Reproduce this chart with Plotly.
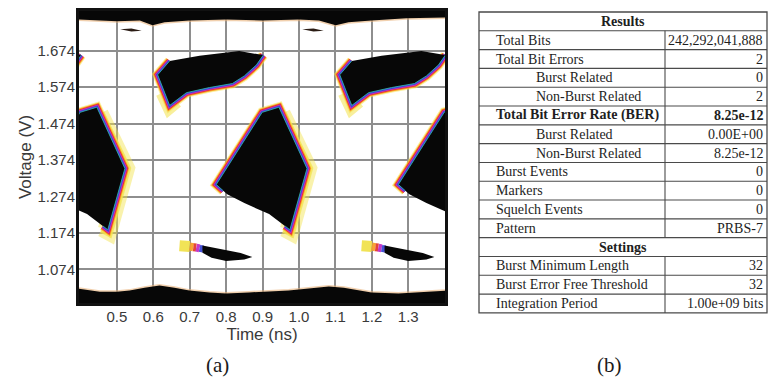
import plotly.graph_objects as go

# ---------------------------------------------------------------------------
# Eye diagram: one unit interval (0.5 ns) of the pattern, repeated across the
# time window.  Each region is a polygon in (time [ns], voltage [V]).
# ---------------------------------------------------------------------------
UI_NS = 0.5
UI_COPIES = [-1, 0, 1]

# central crossing region
cross_t = [0.773, 0.899, 0.945, 1.022, 0.975, 0.918, 0.850, 0.803]
cross_v = [1.307, 1.505, 1.519, 1.351, 1.183, 1.226, 1.256, 1.280]
# sharp (coloured) transition edge of the crossing
cross_edge_t = [0.792, 0.773, 0.899, 0.945, 1.022, 0.975, 0.962]
cross_edge_v = [1.290, 1.307, 1.505, 1.519, 1.351, 1.183, 1.193]
# spread-out trailing edge of the crossing
cross_glow_t = [0.950, 1.022, 0.975, 0.962]
cross_glow_v = [1.500, 1.351, 1.183, 1.190]

# upper rail region
upper_t = [0.902, 0.836, 0.727, 0.645, 0.612, 0.645, 0.691, 0.754, 0.817, 0.850, 0.883]
upper_v = [1.662, 1.673, 1.660, 1.646, 1.608, 1.524, 1.559, 1.573, 1.584, 1.605, 1.635]
upper_edge_t = [0.645, 0.612, 0.645, 0.691, 0.754, 0.817, 0.850, 0.883, 0.902]
upper_edge_v = [1.646, 1.608, 1.524, 1.559, 1.573, 1.584, 1.605, 1.635, 1.662]
upper_glow_t = [0.628, 0.645, 0.662]
upper_glow_v = [1.560, 1.524, 1.538]

# lower rail streak
lower_t = [0.735, 0.780, 0.840, 0.872, 0.850, 0.800, 0.760, 0.735]
lower_v = [1.140, 1.131, 1.119, 1.108, 1.101, 1.097, 1.106, 1.120]
lower_tail_t = [0.672, 0.700, 0.710, 0.718, 0.727, 0.737]
lower_tail_v = [1.139, 1.137, 1.135, 1.134, 1.132, 1.130]

# small dash near the top rail
dash_t = [0.509, 0.540, 0.568, 0.540]
dash_v = [1.733, 1.735, 1.729, 1.727]

# upper and lower rails (edge facing the eye opening)
top_edge_t = [0.390, 0.453, 0.500, 0.563, 0.598, 0.631, 0.699, 0.800, 0.899,
              1.000, 1.055, 1.101, 1.136, 1.199, 1.295, 1.410]
top_edge_v = [1.760, 1.757, 1.755, 1.757, 1.744, 1.752, 1.757, 1.760, 1.757,
              1.760, 1.757, 1.744, 1.752, 1.757, 1.763, 1.765]
bottom_edge_t = [0.390, 0.453, 0.500, 0.535, 0.576, 0.617, 0.658, 0.699, 0.754,
                 0.800, 0.863, 0.918, 0.972, 1.027, 1.082, 1.123, 1.164, 1.199,
                 1.273, 1.328, 1.410]
bottom_edge_v = [1.022, 1.013, 1.013, 1.016, 1.024, 1.030, 1.024, 1.016, 1.011,
                 1.008, 1.011, 1.013, 1.016, 1.022, 1.027, 1.024, 1.016, 1.011,
                 1.008, 1.011, 1.016]
rail_top_v = 1.800
rail_bottom_v = 0.960

# axes
time_ticks = [0.5, 0.6, 0.7, 0.8, 0.9, 1.0, 1.1, 1.2, 1.3]
time_labels = ["0.5", "0.6", "0.7", "0.8", "0.9", "1.0", "1.1", "1.2", "1.3"]
volt_ticks = [1.074, 1.174, 1.274, 1.374, 1.474, 1.574, 1.674]
volt_labels = ["1.074", "1.174", "1.274", "1.374", "1.474", "1.574", "1.674"]
time_range = [0.396, 1.401]
volt_range = [0.982, 1.783]

# ---------------------------------------------------------------------------
# Results table
# ---------------------------------------------------------------------------
results_labels = ["Total Bits", "Total Bit Errors", "Burst Related", "Non-Burst Related",
                  "Total Bit Error Rate (BER)", "Burst Related", "Non-Burst Related",
                  "Burst Events", "Markers", "Squelch Events", "Pattern"]
results_values = ["242,292,041,888", "2", "0", "2", "8.25e-12", "0.00E+00", "8.25e-12",
                  "0", "0", "0", "PRBS-7"]
results_indent = [False, False, True, True, False, True, True, False, False, False, False]
results_bold = [False, False, False, False, True, False, False, False, False, False, False]
settings_labels = ["Burst Minimum Length", "Burst Error Free Threshold", "Integration Period"]
settings_values = ["32", "32", "1.00e+09 bits"]

# ---------------------------------------------------------------------------
W, H = 768, 388
PL, PR, PT, PB = 79, 445, 8, 303          # plot area in pixels


def paper_x(px):
    return (px - PL) / (PR - PL)


def paper_y(py):
    return (PB - py) / (PB - PT)


fig = go.Figure()


def add_line(t, v, color, width, opacity=1.0):
    fig.add_trace(go.Scatter(x=t, y=v, mode="lines", hoverinfo="skip",
                             line=dict(color=color, width=width, shape="linear"),
                             opacity=opacity, showlegend=False))


def add_fill(t, v, color="#070707"):
    fig.add_trace(go.Scatter(x=list(t) + [t[0]], y=list(v) + [v[0]], mode="lines",
                             fill="toself", fillcolor=color, hoverinfo="skip",
                             line=dict(width=0, color=color), showlegend=False))


def shifted(t, k):
    return [x + k * UI_NS for x in t]


# colour fringe of the density map, outermost first
FRINGE = [("#f6e64f", 10, 0.55), ("#f9a224", 8.0, 1.0), ("#e7322a", 6.2, 1.0),
          ("#c22fc4", 4.6, 1.0), ("#3b46d6", 2.8, 1.0)]

# soft glow on the trailing edges
for k in UI_COPIES:
    add_line(shifted(cross_glow_t, k), cross_glow_v, "#f3e34a", 20, 0.45)
    add_line(shifted(cross_glow_t, k), cross_glow_v, "#f3e34a", 12, 0.7)
    add_line(shifted(upper_glow_t, k), upper_glow_v, "#f3e34a", 16, 0.55)

# rail edges: faint warm rim
add_line(top_edge_t, top_edge_v, "#e9b27a", 3, 0.6)
add_line(bottom_edge_t, bottom_edge_v, "#e9b27a", 3, 0.6)

for color, width, op in FRINGE:
    for k in UI_COPIES:
        add_line(shifted(cross_edge_t, k), cross_edge_v, color, width, op)
        add_line(shifted(upper_edge_t, k), upper_edge_v, color, width, op)

# tail of the lower streak fading from yellow to blue
tail_colors = ["#f1e24e", "#f7a02a", "#e33a2c", "#c02fc6", "#3d48d4"]
tail_widths = [11, 8, 8, 8, 7]
for k in UI_COPIES:
    ts = shifted(lower_tail_t, k)
    for i, c in enumerate(tail_colors):
        add_line(ts[i:i + 2], lower_tail_v[i:i + 2], c, tail_widths[i], 0.95)

# dense (black) regions
add_fill(top_edge_t + [top_edge_t[-1], top_edge_t[0]],
         top_edge_v + [rail_top_v, rail_top_v])
add_fill(bottom_edge_t + [bottom_edge_t[-1], bottom_edge_t[0]],
         bottom_edge_v + [rail_bottom_v, rail_bottom_v])
for k in UI_COPIES:
    add_fill(shifted(cross_t, k), cross_v)
    add_fill(shifted(upper_t, k), upper_v)
    add_fill(shifted(lower_t, k), lower_v)
    add_fill(shifted(dash_t, k), dash_v, "#2a1c14")

# thin cyan core on the sharp edges
for k in UI_COPIES:
    add_line(shifted(cross_edge_t, k), cross_edge_v, "#35c9b4", 1.0, 0.75)
    add_line(shifted(upper_edge_t, k), upper_edge_v, "#35c9b4", 1.0, 0.75)

tick_font = dict(family="Liberation Sans, Arial, sans-serif", size=15, color="#3a3a3a")
title_font = dict(family="Liberation Sans, Arial, sans-serif", size=17, color="#3a3a3a")

fig.update_xaxes(range=time_range, tickvals=time_ticks, ticktext=time_labels,
                 showgrid=True, gridcolor="#8e8e8e", gridwidth=1.7, zeroline=False,
                 showline=True, linecolor="#111111", linewidth=3, mirror=True,
                 ticks="", tickfont=tick_font, ticklabelstandoff=-2,
                 title=dict(text="Time (ns)", font=title_font, standoff=0))
fig.update_yaxes(range=volt_range, tickvals=volt_ticks, ticktext=volt_labels,
                 showgrid=True, gridcolor="#8e8e8e", gridwidth=1.7, zeroline=False,
                 showline=True, linecolor="#111111", linewidth=3, mirror=True,
                 ticks="", tickfont=tick_font, ticklabelstandoff=-2,
                 title=dict(text="Voltage (V)", font=title_font, standoff=2))

# ---------------------------------------------------------------------------
# table drawn with paper-referenced shapes and annotations
# ---------------------------------------------------------------------------
T_LEFT, T_RIGHT, T_DIV, T_TOP, ROW_H = 479, 767, 665, 9, 19
serif = "Liberation Serif, Times New Roman, serif"
txt_color = "#1e1e1e"
line_color = "#4a4a4a"

rows = [("Results", None, "header")]
for lab, val, ind, b in zip(results_labels, results_values, results_indent, results_bold):
    rows.append((lab, val, ("indent" if ind else "plain") + ("-bold" if b else "")))
rows.append(("Settings", None, "header"))
for lab, val in zip(settings_labels, settings_values):
    rows.append((lab, val, "plain"))

n_rows = len(rows)
T_BOTTOM = T_TOP + n_rows * ROW_H

shapes = []
shapes.append(dict(type="rect", xref="paper", yref="paper",
                   x0=paper_x(T_LEFT), x1=paper_x(T_RIGHT),
                   y0=paper_y(T_TOP), y1=paper_y(T_BOTTOM),
                   line=dict(color=line_color, width=1.3)))
for i in range(1, n_rows):
    yy = paper_y(T_TOP + i * ROW_H)
    shapes.append(dict(type="line", xref="paper", yref="paper",
                       x0=paper_x(T_LEFT), x1=paper_x(T_RIGHT), y0=yy, y1=yy,
                       line=dict(color=line_color, width=1.1)))

annotations = []
for i, (lab, val, kind) in enumerate(rows):
    yc = paper_y(T_TOP + (i + 0.5) * ROW_H)
    top, bot = paper_y(T_TOP + i * ROW_H), paper_y(T_TOP + (i + 1) * ROW_H)
    if kind == "header":
        annotations.append(dict(x=paper_x((T_LEFT + T_RIGHT) / 2), y=yc, xref="paper",
                                yref="paper", text="<b>%s</b>" % lab, showarrow=False,
                                xanchor="center", yanchor="middle",
                                font=dict(family=serif, size=14, color=txt_color)))
        continue
    shapes.append(dict(type="line", xref="paper", yref="paper",
                       x0=paper_x(T_DIV), x1=paper_x(T_DIV), y0=top, y1=bot,
                       line=dict(color=line_color, width=1.1)))
    bold = kind.endswith("-bold")
    lx = 534 if kind.startswith("indent") else 494
    fmt = "<b>%s</b>" if bold else "%s"
    annotations.append(dict(x=paper_x(lx), y=yc, xref="paper", yref="paper",
                            text=fmt % lab, showarrow=False, xanchor="left",
                            yanchor="middle",
                            font=dict(family=serif, size=14, color=txt_color)))
    annotations.append(dict(x=paper_x(T_RIGHT - 2), y=yc, xref="paper", yref="paper",
                            text=fmt % val, showarrow=False, xanchor="right",
                            yanchor="middle",
                            font=dict(family=serif, size=14, color=txt_color)))

# panel captions
annotations.append(dict(x=paper_x(217), y=paper_y(366), xref="paper", yref="paper",
                        text="(a)", showarrow=False, xanchor="center", yanchor="middle",
                        font=dict(family=serif, size=21, color="#1a1a1a")))
annotations.append(dict(x=paper_x(609), y=paper_y(366), xref="paper", yref="paper",
                        text="(b)", showarrow=False, xanchor="center", yanchor="middle",
                        font=dict(family=serif, size=21, color="#1a1a1a")))

fig.update_layout(width=W, height=H, showlegend=False,
                  margin=dict(l=PL, r=W - PR, t=PT, b=H - PB, pad=0),
                  paper_bgcolor="white", plot_bgcolor="white",
                  shapes=shapes, annotations=annotations)

fig.write_html("out.html")
